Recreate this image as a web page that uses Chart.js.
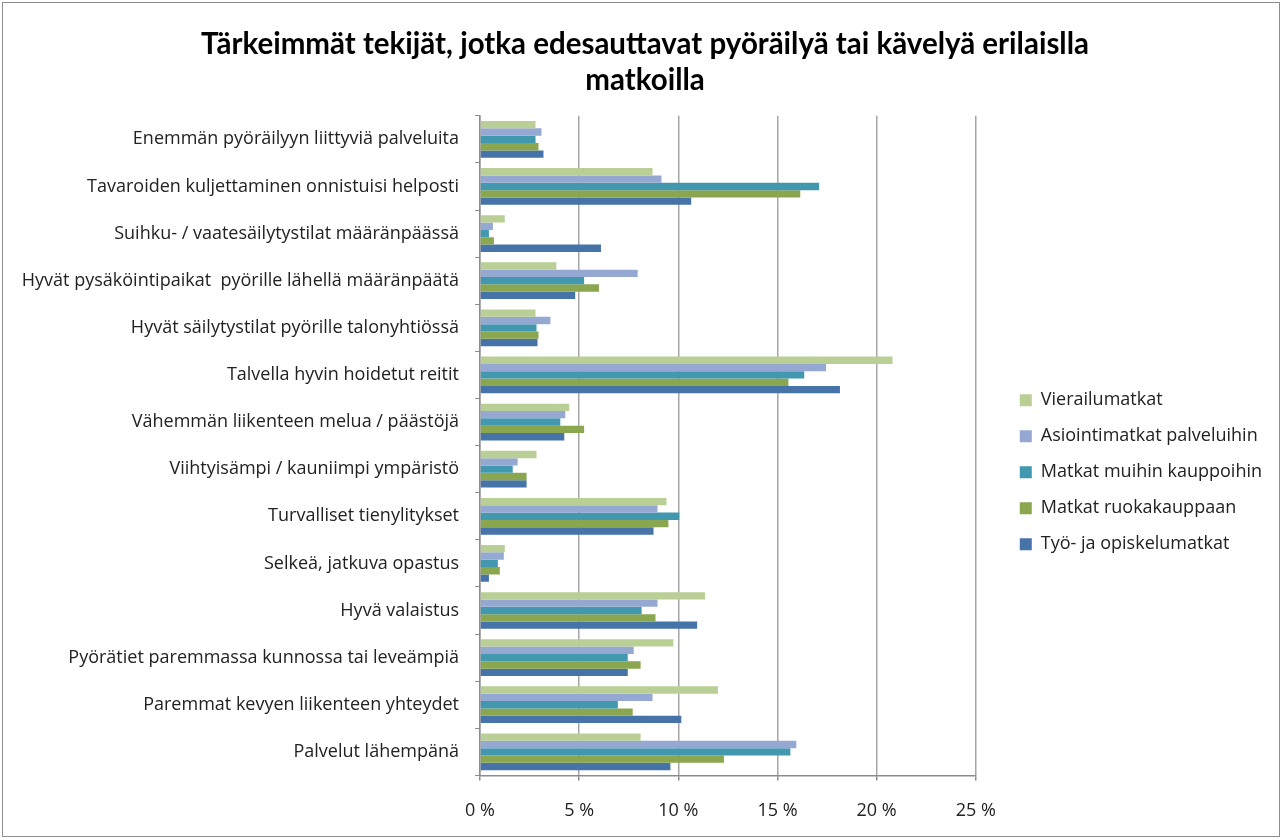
<!DOCTYPE html>
<html lang="fi">
<head>
<meta charset="utf-8">
<script src="https://cdn.jsdelivr.net/npm/chart.js@4.4.1/dist/chart.umd.min.js"></script>
<style>
  html, body { margin: 0; padding: 0; background: #fff; }
  #wrap { position: absolute; left: 0; top: 0; width: 1284px; height: 839px; }
  #frame { position: absolute; left: 2px; top: 2px; width: 1276px; height: 833px; border: 1px solid #8c8c8c; pointer-events: none; }
</style>
</head>
<body>
<div id="wrap"><canvas id="chart"></canvas></div>
<div id="frame"></div>
<script>
const categories = [
  "Enemmän pyöräilyyn liittyviä palveluita",
  "Tavaroiden kuljettaminen onnistuisi helposti",
  "Suihku- / vaatesäilytystilat määränpäässä",
  "Hyvät pysäköintipaikat  pyörille lähellä määränpäätä",
  "Hyvät säilytystilat pyörille talonyhtiössä",
  "Talvella hyvin hoidetut reitit",
  "Vähemmän liikenteen melua / päästöjä",
  "Viihtyisämpi / kauniimpi ympäristö",
  "Turvalliset tienylitykset",
  "Selkeä, jatkuva opastus",
  "Hyvä valaistus",
  "Pyörätiet paremmassa kunnossa tai leveämpiä",
  "Paremmat kevyen liikenteen yhteydet",
  "Palvelut lähempänä"
];

const vierailu  = [2.8, 8.7, 1.25, 3.85, 2.8, 20.8, 4.5, 2.85, 9.4, 1.25, 11.35, 9.75, 12.0, 8.1];
const asiointi  = [3.1, 9.15, 0.65, 7.95, 3.55, 17.45, 4.3, 1.9, 8.95, 1.2, 8.95, 7.75, 8.7, 15.95];
const muihin    = [2.8, 17.1, 0.45, 5.25, 2.85, 16.35, 4.05, 1.65, 10.05, 0.9, 8.15, 7.45, 6.95, 15.65];
const ruoka     = [2.95, 16.15, 0.7, 6.0, 2.95, 15.55, 5.25, 2.35, 9.5, 1.0, 8.85, 8.1, 7.7, 12.3];
const tyo       = [3.2, 10.65, 6.1, 4.8, 2.9, 18.15, 4.25, 2.35, 8.75, 0.45, 10.95, 7.45, 10.15, 9.6];

const seriesNames = [
  "Vierailumatkat",
  "Asiointimatkat palveluihin",
  "Matkat muihin kauppoihin",
  "Matkat ruokakauppaan",
  "Työ- ja opiskelumatkat"
];
const seriesColors = ["#b9cf96", "#94a8d1", "#4198af", "#8aa64f", "#4673a8"];
const xTicks = [0, 5, 10, 15, 20, 25];

const seriesData = [vierailu, asiointi, muihin, ruoka, tyo];

const labelFont = "'Open Sans', sans-serif";
const titleFont = "Lato, 'Open Sans', sans-serif";

const ctx = document.getElementById("chart").getContext("2d");
new Chart(ctx, {
  type: "bar",
  data: {
    labels: categories,
    datasets: seriesNames.map((name, i) => ({
      label: name,
      data: seriesData[i],
      backgroundColor: seriesColors[i],
      borderWidth: 0,
      categoryPercentage: 0.78,
      barPercentage: 1.0,
    })),
  },
  options: {
    indexAxis: "y",
    responsive: true,
    maintainAspectRatio: false,
    animation: false,
    layout: {
      padding: { left: 18, right: 12, top: 0, bottom: -3 },
    },
    scales: {
      x: {
        min: 0,
        max: 25,
        afterBuildTicks: (axis) => {
          axis.ticks = xTicks.map((v) => ({ value: v }));
        },
        grid: {
          color: "#a6a6a6",
          lineWidth: 1.5,
          drawTicks: true,
          tickLength: 5,
          tickColor: "#8c8c8c",
        },
        border: { color: "#8c8c8c", width: 1.5 },
        ticks: {
          color: "#222",
          font: { family: labelFont, size: 18 },
          padding: 20,
          maxRotation: 0,
          callback: (v) => v + " %",
        },
      },
      y: {
        afterFit: (scale) => { scale.width = 462; },
        grid: {
          display: true,
          drawOnChartArea: false,
          drawTicks: true,
          tickLength: 5,
          tickColor: "#8c8c8c",
          offset: true,
        },
        border: { color: "#8c8c8c", width: 1.5 },
        ticks: {
          color: "#222",
          font: { family: labelFont, size: 18 },
          padding: 16,
          autoSkip: false,
        },
      },
      // empty spacer between the plot area and the legend
      gap: {
        type: "linear",
        axis: "y",
        position: "right",
        grid: { display: false },
        border: { display: false },
        ticks: { display: false },
        afterFit: (scale) => { scale.width = 26; },
      },
    },
    plugins: {
      title: {
        display: true,
        text: [
          "Tärkeimmät tekijät, jotka edesauttavat pyöräilyä tai kävelyä erilaislla",
          "matkoilla",
        ],
        color: "#000",
        font: { family: titleFont, size: 29.5, weight: "bold", lineHeight: 1.2 },
        padding: { top: 27, bottom: 18 },
      },
      legend: {
        position: "right",
        align: "center",
        maxWidth: 320,
        title: {
          display: true,
          text: "",
          font: { size: 12, lineHeight: 1.2 },
          padding: { top: 0, bottom: 88 },
        },
        labels: {
          color: "#222",
          font: { family: labelFont, size: 18 },
          boxWidth: 12,
          boxHeight: 12,
          padding: 18,
        },
      },
      tooltip: { enabled: false },
    },
  },
});
</script>
</body>
</html>
